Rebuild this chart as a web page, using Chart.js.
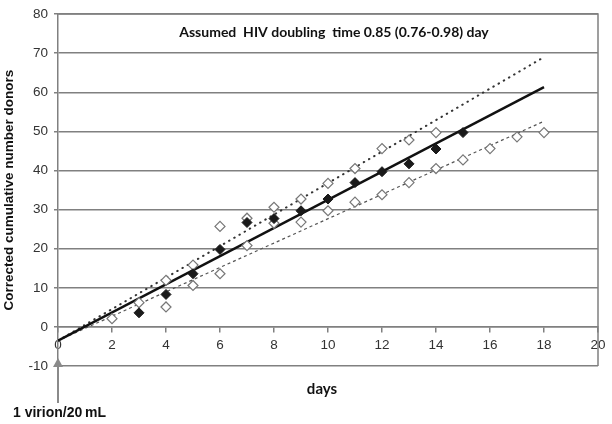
<!DOCTYPE html>
<html>
<head>
<meta charset="utf-8">
<script src="https://cdn.jsdelivr.net/npm/chart.js@4/dist/chart.umd.min.js"></script>
<style>
  html, body { margin: 0; padding: 0; background: #fff; }
  #wrap { width: 612px; height: 424px; }
</style>
</head>
<body>
<div id="wrap"><canvas id="chart" width="612" height="424"></canvas></div>
<script>
// --- datos ---
const obsDays = [3, 4, 5, 6, 7, 8, 9, 10, 11, 12, 13, 14, 15];
const observed = [3.6, 8.3, 13.6, 19.8, 26.7, 27.7, 29.7, 32.7, 36.9, 39.7, 41.7, 45.5, 49.7];

const highDays = [4, 5, 6, 7, 8, 9, 10, 11, 12, 13, 14];
const highSeries = [11.9, 15.8, 25.7, 27.8, 30.6, 32.7, 36.7, 40.5, 45.6, 47.8, 49.7];

const lowDays = [2, 3, 4, 5, 6, 7, 8, 9, 10, 11, 12, 13, 14, 15, 16, 17, 18];
const lowSeries = [2.1, 6.2, 5.1, 10.6, 13.6, 20.8, 26.5, 26.8, 29.7, 31.9, 33.8, 36.9, 40.5, 42.7, 45.6, 48.6, 49.7];

const fitDays = [0, 18];
const fitCentral = [-3.5, 61.3];
const fitUpper = [-3.5, 69.0];
const fitLower = [-3.5, 52.6];

const xTicks = [0, 2, 4, 6, 8, 10, 12, 14, 16, 18, 20];
const yTicks = [-10, 0, 10, 20, 30, 40, 50, 60, 70, 80];

const chartTitle = 'Assumed  HIV doubling  time 0.85 (0.76-0.98) day';
const xTitle = 'days';
const yTitle = 'Corrected cumulative number donors';
const arrowLabel = '1 virion/20\u2009mL';

const toXY = (xs, ys) => xs.map((x, i) => ({ x: x, y: ys[i] }));

const gridGray = '#808080';
const tickFont = { family: '"Liberation Sans", Arial, sans-serif', size: 13.5 };

// --- textos y flecha dibujados sobre el area ---
const extras = {
  id: 'extras',
  afterDraw(chart) {
    const { ctx, chartArea: a, scales } = chart;
    ctx.save();
    // marco
    ctx.strokeStyle = gridGray;
    ctx.lineWidth = 1.5;
    ctx.beginPath();
    ctx.moveTo(a.left, a.top);
    ctx.lineTo(a.right, a.top);
    ctx.lineTo(a.right, a.bottom);
    ctx.stroke();

    // titulo interno
    ctx.fillStyle = '#111';
    ctx.textAlign = 'center';
    ctx.textBaseline = 'middle';
    ctx.font = 'bold 14px Lato, "Open Sans", sans-serif';
    ctx.fillText(chartTitle, (a.left + a.right) / 2 + 6, a.top + 18);

    // titulo eje x
    ctx.font = 'bold 15px Lato, "Open Sans", sans-serif';
    ctx.fillText(xTitle, (a.left + a.right) / 2 - 6, a.bottom + 23);

    // flecha
    const x0 = scales.x.getPixelForValue(0);
    ctx.strokeStyle = '#8a8a8a';
    ctx.fillStyle = '#8a8a8a';
    ctx.lineWidth = 2;
    ctx.beginPath();
    ctx.moveTo(x0, a.bottom + 37);
    ctx.lineTo(x0, a.bottom - 2);
    ctx.stroke();
    ctx.beginPath();
    ctx.moveTo(x0, a.bottom - 8);
    ctx.lineTo(x0 - 5, a.bottom + 1);
    ctx.lineTo(x0 + 5, a.bottom + 1);
    ctx.closePath();
    ctx.fill();

    ctx.fillStyle = '#111';
    ctx.textAlign = 'left';
    ctx.font = 'bold 14px "Liberation Sans", Arial, sans-serif';
    ctx.fillText(arrowLabel, 13, a.bottom + 47);
    ctx.restore();
  }
};

new Chart(document.getElementById('chart'), {
  type: 'scatter',
  data: {
    datasets: [
      {
        label: 'central',
        data: toXY(fitDays, fitCentral),
        showLine: true,
        borderColor: '#111',
        borderWidth: 2.5,
        pointRadius: 0,
        order: 3
      },
      {
        label: 'upper',
        data: toXY(fitDays, fitUpper),
        showLine: true,
        borderColor: '#333',
        borderWidth: 2,
        borderDash: [0.5, 5.5],
        borderCapStyle: 'round',
        pointRadius: 0,
        order: 3
      },
      {
        label: 'lower',
        data: toXY(fitDays, fitLower),
        showLine: true,
        borderColor: '#555',
        borderWidth: 1.2,
        borderDash: [3, 3],
        pointRadius: 0,
        order: 3
      },
      {
        label: 'high',
        data: toXY(highDays, highSeries),
        pointStyle: 'rectRot',
        pointRadius: 5,
        backgroundColor: '#fff',
        borderColor: '#777',
        borderWidth: 1.2,
        order: 2
      },
      {
        label: 'low',
        data: toXY(lowDays, lowSeries),
        pointStyle: 'rectRot',
        pointRadius: 5,
        backgroundColor: '#fff',
        borderColor: '#777',
        borderWidth: 1.2,
        order: 2
      },
      {
        label: 'observed',
        data: toXY(obsDays, observed),
        pointStyle: 'rectRot',
        pointRadius: 5,
        backgroundColor: '#1a1a1a',
        borderColor: '#1a1a1a',
        borderWidth: 1,
        order: 1
      }
    ]
  },
  options: {
    responsive: false,
    animation: false,
    layout: { padding: { left: 0, right: 14, top: 12, bottom: 58 } },
    plugins: {
      legend: { display: false },
      tooltip: { enabled: false }
    },
    scales: {
      x: {
        type: 'linear',
        position: { y: 0 },
        min: 0,
        max: 20,
        afterBuildTicks: s => { s.ticks = xTicks.map(v => ({ value: v })); },
        grid: {
          drawOnChartArea: false,
          drawTicks: true,
          tickLength: 5,
          color: gridGray,
          lineWidth: 1.5
        },
        border: { display: true, color: gridGray, width: 1.5 },
        ticks: {
          color: '#333',
          padding: 5,
          maxRotation: 0,
          font: tickFont
        }
      },
      y: {
        type: 'linear',
        min: -10,
        max: 80,
        afterBuildTicks: s => { s.ticks = yTicks.map(v => ({ value: v })); },
        afterFit: s => { s.width = 58; },
        grid: {
          drawTicks: true,
          tickLength: 4,
          color: gridGray,
          lineWidth: 1.5
        },
        border: { display: true, color: gridGray, width: 1.5 },
        ticks: {
          color: '#333',
          padding: 6,
          font: tickFont
        },
        title: {
          display: true,
          text: yTitle,
          color: '#111',
          padding: { top: 1, bottom: 0 },
          font: { family: '"Liberation Sans", Arial, sans-serif', size: 13.5, weight: 'bold' }
        }
      }
    }
  },
  plugins: [extras]
});
</script>
</body>
</html>
